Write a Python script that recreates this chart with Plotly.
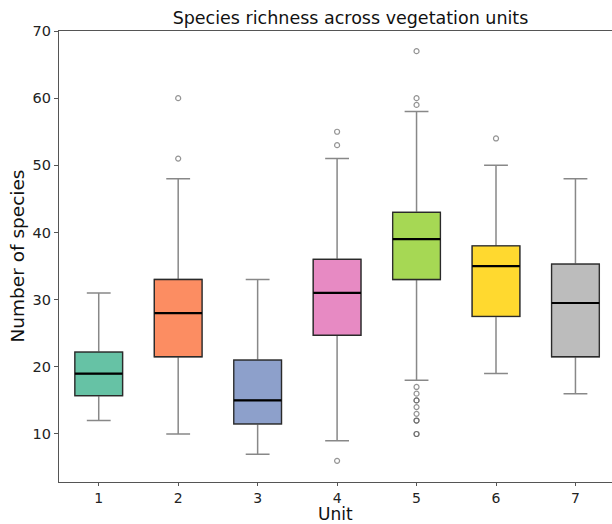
import plotly.graph_objects as go

units = [1, 2, 3, 4, 5, 6, 7]
q1 = [15.7, 21.5, 11.5, 24.7, 33.0, 27.5, 21.5]
median = [19.0, 28.0, 15.0, 31.0, 39.0, 35.0, 29.5]
q3 = [22.2, 33.0, 21.0, 36.0, 43.0, 38.0, 35.3]
lower_whisker = [12, 10, 7, 9, 18, 19, 16]
upper_whisker = [31, 48, 33, 51, 58, 50, 48]
outliers = {
    2: [60, 51],
    4: [55, 53, 6],
    5: [67, 60, 59, 17, 16, 15, 15, 14, 13, 12, 12, 10, 10],
    6: [54],
}
colors = ["#66c2a5", "#fc8d62", "#8da0cb", "#e78ac3", "#a6d854", "#ffd92f", "#bcbcbc"]

fig = go.Figure()
for i, u in enumerate(units):
    # whiskers (gray)
    fig.add_trace(go.Box(
        x=[u], q1=[q1[i]], median=[median[i]], q3=[q3[i]],
        lowerfence=[lower_whisker[i]], upperfence=[upper_whisker[i]],
        width=0.6, whiskerwidth=0.5, fillcolor="rgba(0,0,0,0)",
        line=dict(color="#888888", width=1.5), boxpoints=False,
        showlegend=False, hoverinfo="skip"))
    # filled box with dark outline
    fig.add_trace(go.Box(
        x=[u], q1=[q1[i]], median=[median[i]], q3=[q3[i]],
        lowerfence=[q1[i]], upperfence=[q3[i]],
        width=0.6, whiskerwidth=0, fillcolor=colors[i],
        line=dict(color="#2a2a2a", width=1.3), boxpoints=False,
        showlegend=False, hoverinfo="skip"))
    # thick median line
    fig.add_trace(go.Box(
        x=[u], q1=[median[i]], median=[median[i]], q3=[median[i]],
        lowerfence=[median[i]], upperfence=[median[i]],
        width=0.6, whiskerwidth=0, fillcolor="rgba(0,0,0,0)",
        line=dict(color="black", width=2.2), boxpoints=False,
        showlegend=False, hoverinfo="skip"))

for u, vals in outliers.items():
    fig.add_trace(go.Scatter(
        x=[u] * len(vals), y=vals, mode="markers",
        marker=dict(symbol="circle-open", size=5,
                    color="rgba(90,90,90,0.65)", line=dict(width=1.2)),
        showlegend=False, hoverinfo="skip"))

fig.update_layout(
    width=612, height=524,
    margin=dict(l=59, r=0, t=31, b=42, autoexpand=False),
    plot_bgcolor="white", paper_bgcolor="white",
    font=dict(family="DejaVu Sans", color="#222222"),
    title=dict(text="Species richness across vegetation units", x=350.5 / 612,
               xanchor="center", xref="container", y=1 - 18 / 524, yanchor="middle",
               font=dict(size=17.5, color="#111111")),
    boxmode="overlay",
    annotations=[
        dict(text="Unit", xref="paper", yref="paper", x=0.5, y=-32 / 451,
             xanchor="center", yanchor="middle", showarrow=False,
             font=dict(size=17, color="#111111")),
        dict(text="Number of species", xref="paper", yref="paper", x=-42 / 553,
             y=0.5, xanchor="center", yanchor="middle", textangle=-90,
             showarrow=False, font=dict(size=18.5, color="#111111")),
    ],
)
fig.update_xaxes(
    range=[0.5, 7.46], tickmode="array", tickvals=units,
    ticktext=[str(u) for u in units], automargin=False,
    showline=True, linecolor="#555555", linewidth=1.2, mirror=True,
    ticks="outside", ticklen=3, tickcolor="#555555",
    tickfont=dict(size=14), showgrid=False, zeroline=False)
fig.update_yaxes(
    range=[2.85, 70], tickmode="array", tickvals=[10, 20, 30, 40, 50, 60, 70],
    automargin=False,
    showline=True, linecolor="#555555", linewidth=1.2,
    ticks="outside", ticklen=4, tickcolor="#555555",
    tickfont=dict(size=14.5), showgrid=False, zeroline=False)

fig.write_html(
    "out.html",
    config={"displayModeBar": False},
    post_script="document.body.style.margin='0';document.body.style.overflow='hidden';",
)
